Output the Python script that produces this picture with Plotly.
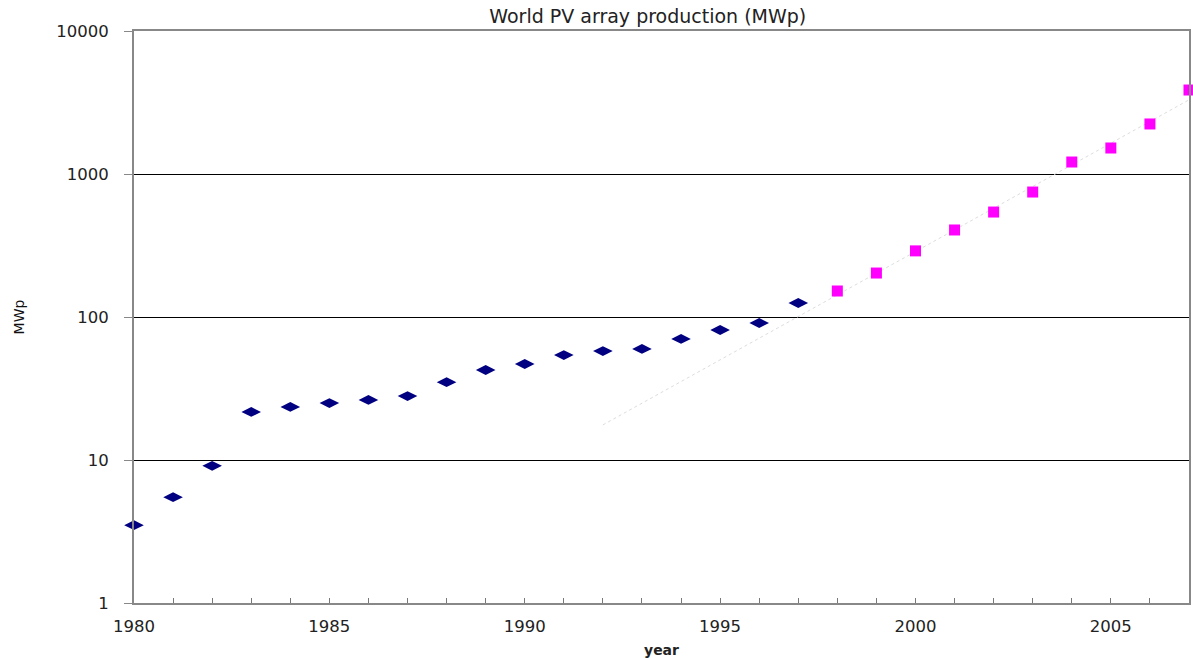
import plotly.graph_objects as go

years_hist = list(range(1980, 1998))
mwp_hist = [3.5, 5.5, 9.1, 21.7, 23.5, 25.0, 26.3, 28.0, 35.0, 42.6, 46.9, 54.2,
            57.8, 59.8, 70.2, 81.1, 90.8, 125.3]
years_new = list(range(1998, 2008))
mwp_new = [152, 203, 290, 406, 542, 748, 1213, 1520, 2238, 3866]
trend_years = [1992, 2007]
trend_mwp = [17.6, 3300]

x_tickvals = list(range(1980, 2008))
x_ticktext = [str(y) if y % 5 == 0 else "" for y in x_tickvals]
y_tickvals = [1, 10, 100, 1000, 10000]
y_ticktext = ["1", "10", "100", "1000", "10000"]

FONT = "DejaVu Sans"

fig = go.Figure()
fig.add_trace(go.Scatter(
    x=trend_years, y=trend_mwp, mode="lines",
    line=dict(color="#dddddd", width=1, dash="dot"),
    hoverinfo="skip", showlegend=False, cliponaxis=False))
fig.add_trace(go.Scatter(
    x=years_hist, y=mwp_hist, mode="markers",
    marker=dict(symbol="diamond-wide", size=14, color="#000080"),
    showlegend=False, cliponaxis=False))
fig.add_trace(go.Scatter(
    x=years_new, y=mwp_new, mode="markers",
    marker=dict(symbol="square", size=11, color="#ff00ff"),
    showlegend=False, cliponaxis=False))

fig.update_layout(
    width=1193, height=658,
    margin=dict(l=134, r=2, t=31, b=55),
    plot_bgcolor="white", paper_bgcolor="white",
    font=dict(family=FONT, color="#222222"),
    title=dict(text="World PV array production (MWp)", x=0.543, xref="container",
               xanchor="center", y=0.975, yref="container", yanchor="middle",
               font=dict(family=FONT, size=19, color="#222222")),
)
fig.update_xaxes(
    range=[1980, 2007], tickvals=x_tickvals, ticktext=x_ticktext,
    ticks="inside", ticklen=5, tickcolor="#777777",
    showgrid=False, zeroline=False,
    showline=True, linecolor="#888888", linewidth=2, mirror=True,
    tickfont=dict(family=FONT, size=16.5, color="#222222"),
    ticklabelstandoff=7,
    title=dict(text="<b>year</b>", font=dict(family=FONT, size=14, color="#222222"),
               standoff=10),
)
fig.update_yaxes(
    type="log", range=[0, 4], tickvals=y_tickvals, ticktext=y_ticktext,
    ticks="outside", ticklen=8, tickcolor="#888888",
    showgrid=True, gridcolor="#000000", gridwidth=1, zeroline=False,
    showline=True, linecolor="#888888", linewidth=2, mirror=True,
    tickfont=dict(family=FONT, size=16.5, color="#222222"),
    ticklabelstandoff=12,
    title=dict(text="MWp", font=dict(family=FONT, size=14, color="#111111"),
               standoff=28),
)

fig.write_html("out.html")
